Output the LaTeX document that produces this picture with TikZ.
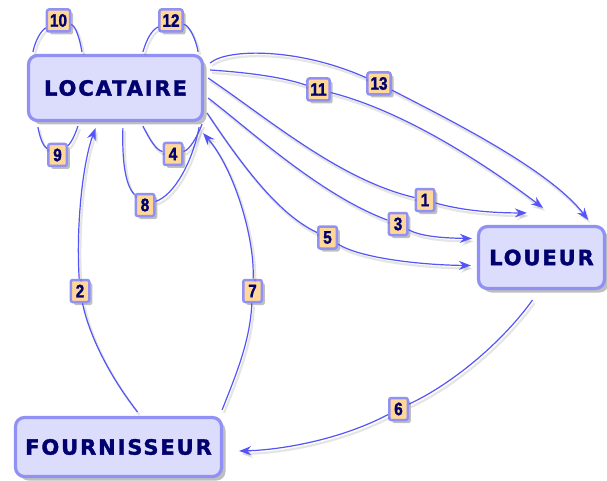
\documentclass[tikz,border=0pt]{standalone}
\usepackage{fontspec}
\usetikzlibrary{arrows.meta,shadows,calc}
\newfontfamily\boxfont[LetterSpace=9, FakeBold=1.6]{DejaVu Sans Bold}
\newfontfamily\numfont[FakeStretch=0.85, FakeBold=1.6]{Liberation Sans Bold}
\definecolor{boxfill}{RGB}{220,220,252}
\definecolor{boxline}{RGB}{145,145,245}
\definecolor{boxtext}{RGB}{0,0,110}
\definecolor{labfill}{RGB}{255,216,152}
\definecolor{edgecol}{RGB}{85,85,245}
\begin{document}
\begin{tikzpicture}[x=1pt,y=-1pt,
 bigbox/.style={draw=boxline, line width=3.2pt, fill=boxfill, rounded corners=9pt, text=boxtext,
   font=\boxfont\fontsize{21}{21}\selectfont, inner sep=0pt,
   drop shadow={shadow xshift=4pt, shadow yshift=-4pt, opacity=0.25, fill=black}},
 lab/.style={draw=boxline, line width=2.5pt, fill=labfill, rounded corners=2pt, text=boxtext,
   font=\numfont\fontsize{18}{18}\selectfont, minimum height=22pt, minimum width=18.5pt,
   inner xsep=3pt, inner ysep=0pt,
   drop shadow={shadow xshift=3pt, shadow yshift=-3pt, opacity=0.25, fill=black}},
 edge/.style={draw=edgecol, line width=1.2pt,
   preaction={draw=black, opacity=0.10, line width=2.2pt, transform canvas={shift={(2pt,-3pt)}}}},
 arr/.style={-{Stealth[length=12pt,width=9pt]}},
]
\useasboundingbox (0,0) rectangle (607,481);

\node[bigbox, minimum width=174pt, minimum height=65pt] (loc) at (115.5,88) {LOCATAIRE};
\node[bigbox, minimum width=126pt, minimum height=62pt] (lou) at (541.5,257.5) {LOUEUR};
\node[bigbox, minimum width=206pt, minimum height=59pt] (fou) at (118.5,447) {FOURNISSEUR};

\node[lab] (l10) at (58.5,20.5) {10};
\node[lab] (l12) at (171,20.5) {12};
\node[lab] (l9) at (57.5,155) {9};
\node[lab] (l4) at (173,154) {4};
\node[lab] (l8) at (145,205) {8};
\node[lab] (l11) at (318.5,89.5) {11};
\node[lab] (l13) at (379,83.5) {13};
\node[lab] (l1) at (425,200) {1};
\node[lab] (l3) at (398,224) {3};
\node[lab] (l5) at (327.5,237.5) {5};
\node[lab] (l2) at (80,291) {2};
\node[lab] (l7) at (252.5,291) {7};
\node[lab] (l6) at (398.5,409) {6};

% loops
\draw[edge] ($(loc.north west)+(6,-2)$) .. controls (36,38) and (42,30) .. (l10)
  .. controls (76,26) and (80,40) .. ($(loc.north west)+(55,-2)$);
\draw[edge] ($(loc.north west)+(116,-2)$) .. controls (147,38) and (152,30) .. (l12)
  .. controls (190,26) and (196,40) .. ($(loc.north east)+(-6,-2)$);
\draw[edge] ($(loc.south west)+(11,5)$) .. controls (40,138) and (43,146) .. (l9)
  .. controls (72,142) and (76,132) .. ($(loc.south west)+(51,4)$);
\draw[edge] ($(loc.south west)+(116,4)$) .. controls (150,140) and (156,150) .. (l4)
  .. controls (190,150) and (198,135) .. ($(loc.south east)+(-2,2)$);
\draw[edge] ($(loc.south west)+(96,6)$) .. controls (122,160) and (125,185) .. (l8)
  .. controls (175,195) and (193,160) .. ($(loc.south east)+(-5,5)$);

% locataire -> loueur
\draw[edge,arr] ($(loc.east)+(6,-25)$) .. controls (228,48) and (300,48) .. (l13)
  .. controls (450,120) and (550,170) .. ($(lou.north east)+(-18,-5)$);
\draw[edge,arr] ($(loc.east)+(6,-18)$) .. controls (240,72) and (280,76) .. (l11)
  .. controls (400,110) and (480,160) .. ($(lou.north)+(1.5,-17)$);
\draw[edge,arr] ($(loc.east)+(4,-10)$) .. controls (270,120) and (340,180) .. (l1)
  .. controls (460,210) and (490,213) .. ($(lou.north west)+(50,-12)$);
\draw[edge,arr] ($(loc.east)+(4,10)$) .. controls (250,130) and (320,195) .. (l3)
  .. controls (420,236) and (440,238) .. ($(lou.west)+(-5,-19)$);
\draw[edge,arr] ($(loc.east)+(3,25)$) .. controls (245,170) and (280,215) .. (l5)
  .. controls (360,258) and (420,265) .. ($(lou.west)+(-6,8)$);

% fournisseur -> locataire
\draw[edge,arr] ($(fou.north)+(19,-4)$) .. controls (105,370) and (88,330) .. (l2)
  .. controls (76,230) and (82,165) .. ($(loc.south)+(-20,6)$);
\draw[edge,arr] ($(fou.north east)+(-1,-6)$) .. controls (238,370) and (250,340) .. (l7)
  .. controls (255,240) and (235,170) .. ($(loc.south east)+(-1,11)$);

% loueur -> fournisseur
\draw[edge,arr] ($(lou.south)+(-9,10)$) .. controls (500,345) and (450,385) .. (l6)
  .. controls (340,440) and (280,450) .. ($(fou.east)+(16,4)$);
\end{tikzpicture}
\end{document}
